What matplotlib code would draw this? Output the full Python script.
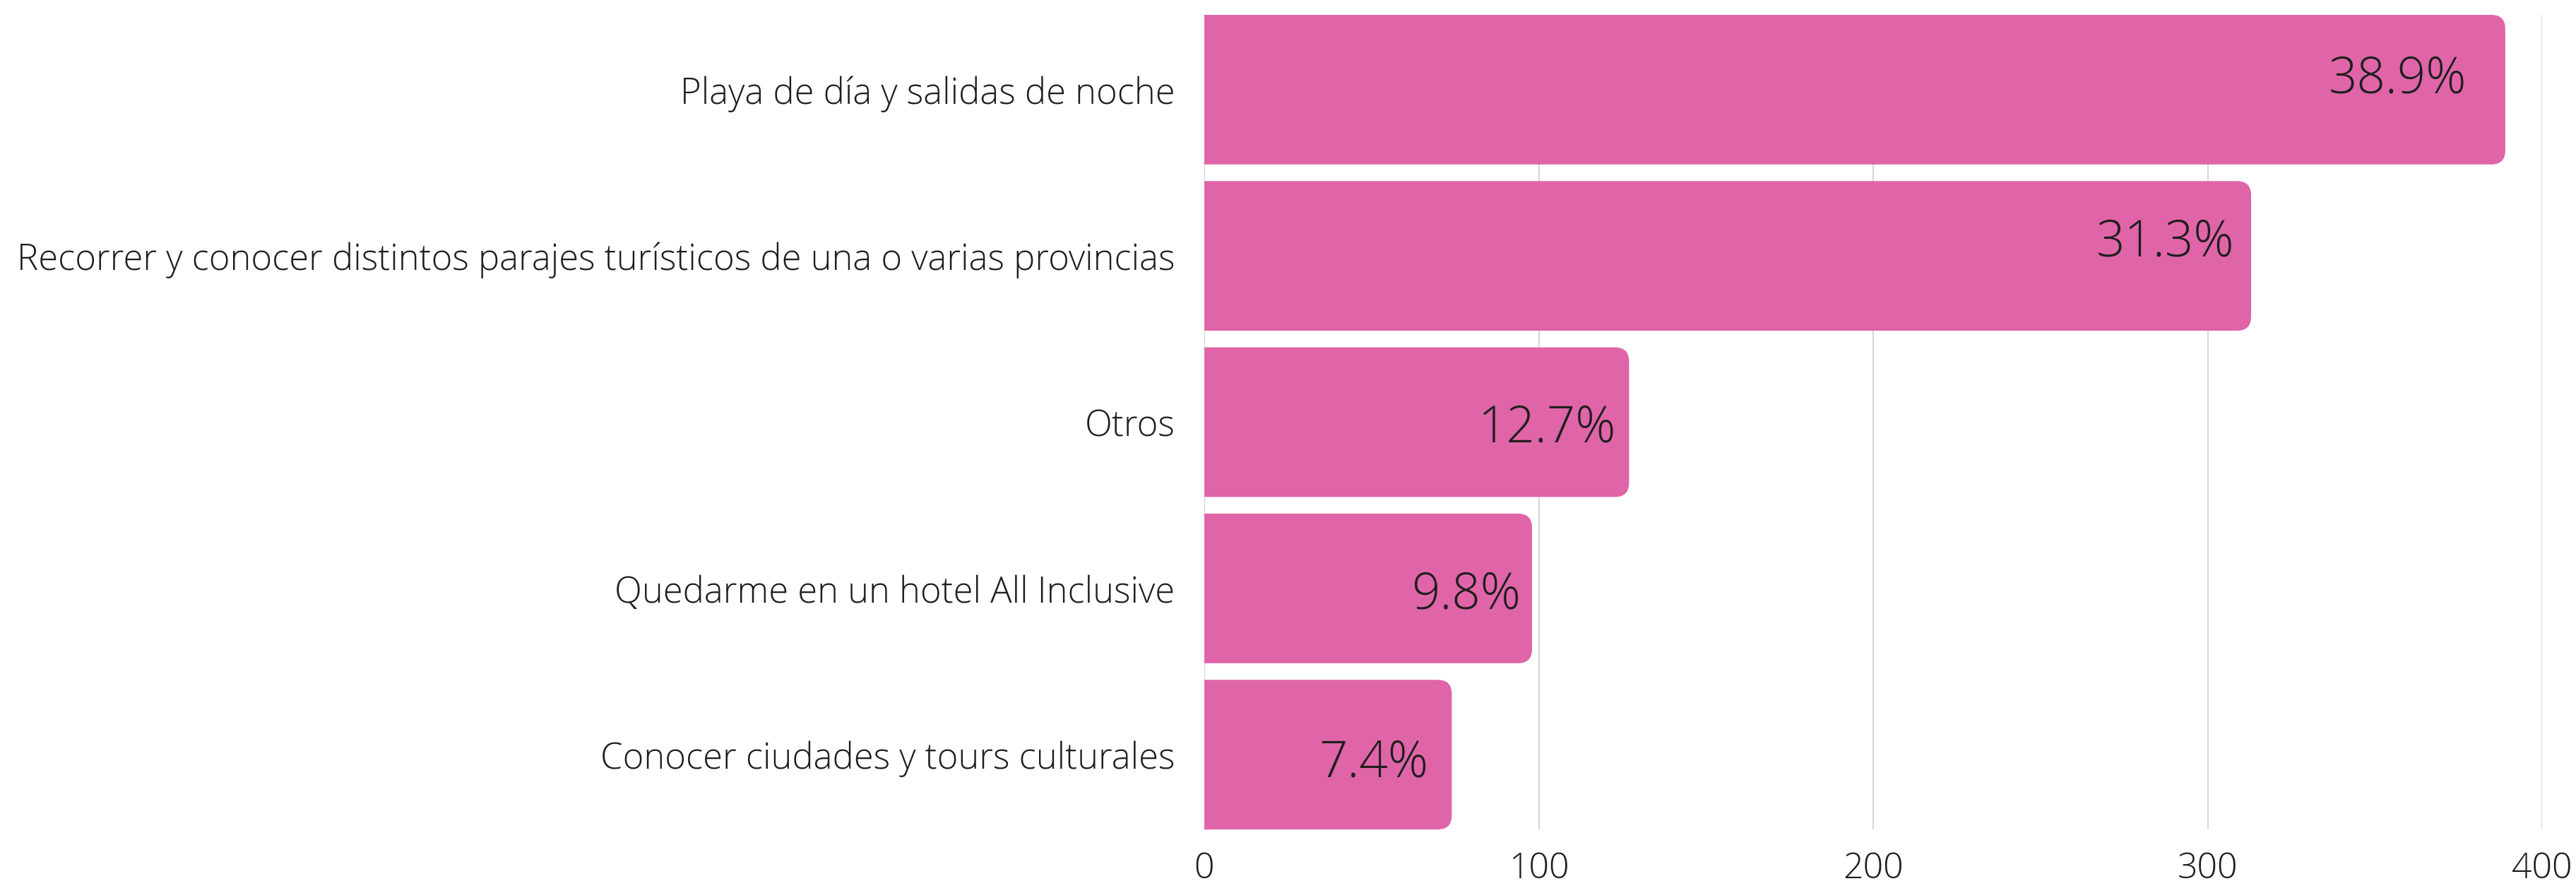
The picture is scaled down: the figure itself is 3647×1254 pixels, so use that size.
import matplotlib
matplotlib.use("Agg")
import matplotlib.pyplot as plt
from matplotlib.patches import FancyBboxPatch

categories = [
    "Playa de día y salidas de noche",
    "Recorrer y conocer distintos parajes turísticos de una o varias provincias",
    "Otros",
    "Quedarme en un hotel All Inclusive",
    "Conocer ciudades y tours culturales",
]
counts = [389, 313, 127, 98, 74]
pct_labels = ["38.9%", "31.3%", "12.7%", "9.8%", "7.4%"]
xticks = [0, 100, 200, 300, 400]

# label nudges (pixels) relative to bar end / bar centre, as in the original
label_dx = [-55, -24, -19, -16, -33]
label_dy = [-5, 0, -28, -29, -31]

bar_color = "#E065A8"
text_color = "#1e1e1e"

plt.rcParams['font.family'] = ['Open Sans', 'DejaVu Sans']

fig = plt.figure(figsize=(36.48, 12.54), dpi=100)
ax = fig.add_axes([1705 / 3648, 1 - 1174 / 1254, (3599 - 1705) / 3648, (1174 - 21) / 1254])

ax.set_xlim(0, 400)
ax.set_ylim(len(categories) - 0.55, -0.45)

# rounded bars: left corners fall below x=0 and get clipped by the axes
rx = 4.2
ry = 0.085
h = 0.9
for i, v in enumerate(counts):
    p = FancyBboxPatch((-2 * rx, i - h / 2), v + 2 * rx, h,
                       boxstyle=f"round,pad=0,rounding_size={rx}",
                       mutation_aspect=ry / rx,
                       facecolor=bar_color, edgecolor="none", zorder=2)
    ax.add_patch(p)
    ax.annotate(pct_labels[i], (v, i), xytext=(label_dx[i], label_dy[i]),
                textcoords="offset pixels",
                ha="right", va="baseline", fontsize=51, fontweight="light",
                color=text_color, zorder=3)

ax.set_xticks(xticks)
ax.set_xticklabels([str(t) for t in xticks], fontsize=36, fontweight="light", color=text_color)
ax.set_yticks(range(len(categories)))
ax.set_yticklabels(categories, fontsize=36.5, fontweight="light", color=text_color)
ax.tick_params(axis="both", length=0)
ax.tick_params(axis="y", pad=30)
ax.tick_params(axis="x", pad=22)

ax.grid(axis="x", color="#d6d6d6", linewidth=1.5, zorder=0)
ax.set_axisbelow(True)
for s in ax.spines.values():
    s.set_visible(False)

fig.savefig("out.png", dpi=100, facecolor="white")
